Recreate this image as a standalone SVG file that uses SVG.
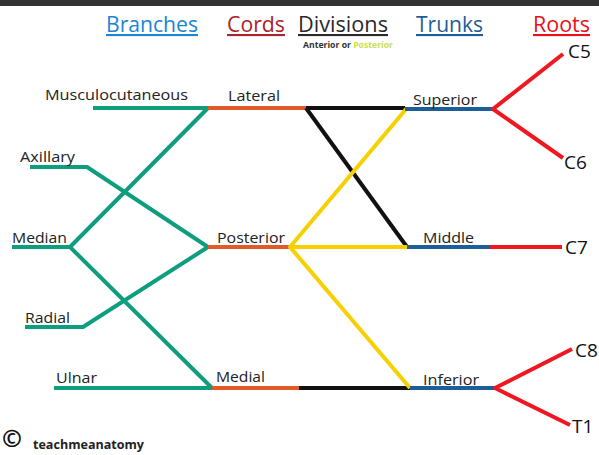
<svg xmlns="http://www.w3.org/2000/svg" width="599" height="455" viewBox="0 0 599 455">
<style>
text{font-family:"Open Sans","Noto Sans","DejaVu Sans",sans-serif;}
.h{font-size:21px;text-decoration:underline;}
.l{font-size:15px;fill:#222;}
.r{font-size:19px;fill:#111;}
.s{fill:none;stroke-width:4;stroke-linejoin:round;}
.g{stroke:#0e9e7e;}
.o{stroke:#e05a2a;}
.k{stroke:#111;}
.y{stroke:#f6d000;}
.b{stroke:#1e5d98;}
.d{stroke:#f01820;}
</style>
<rect x="0" y="0" width="599" height="455" fill="#fff"/>
<rect x="0" y="0" width="599" height="6" fill="#333"/>
<g id="headers">
<text class="h" x="106" y="32" fill="#1a86d2" textLength="92" lengthAdjust="spacingAndGlyphs">Branches</text>
<text class="h" x="227" y="32" fill="#a8242a" textLength="58" lengthAdjust="spacingAndGlyphs">Cords</text>
<text class="h" x="298" y="32" fill="#2a2a2a" textLength="90" lengthAdjust="spacingAndGlyphs">Divisions</text>
<text x="303" y="48" font-size="8" font-weight="bold" fill="#333" textLength="90" lengthAdjust="spacingAndGlyphs">Anterior or <tspan fill="#c9e04a">Posterior</tspan></text>
<text class="h" x="416" y="32" fill="#1e5d98" textLength="67" lengthAdjust="spacingAndGlyphs">Trunks</text>
<text class="h" x="533" y="32" fill="#e8101a" textLength="57" lengthAdjust="spacingAndGlyphs">Roots</text>
</g>
<g id="connectors">
<path class="s g" d="M93,108 L208,108"/>
<path class="s g" d="M208,108 L70,247"/>
<path class="s g" d="M12,247 L70,247 L212,388"/>
<path class="s g" d="M30,167 L87,167 L208,247"/>
<path class="s g" d="M25,327 L83,327 L208,247"/>
<path class="s g" d="M54,388 L212,388"/>
<path class="s o" d="M208,108 L306,108"/>
<path class="s o" d="M208,247 L290,247"/>
<path class="s o" d="M212,388 L299,388"/>
<path class="s k" d="M306,108 L405,108"/>
<path class="s k" d="M306,108 L407,247"/>
<path class="s k" d="M299,388 L410,388"/>
<path class="s y" d="M407,108 L290,247 L407,247"/>
<path class="s y" d="M290,247 L410,388"/>
<path class="s b" d="M405,109 L493,109"/>
<path class="s b" d="M407,247 L490,247"/>
<path class="s b" d="M410,388 L495,388"/>
<path class="s d" d="M563,54 L493,109 L563,158"/>
<path class="s d" d="M490,247 L562,247"/>
<path class="s d" d="M572,349 L495,388 L570,425"/>
</g>
<g id="branch-musculocutaneous"><text class="l" x="45" y="100" textLength="143" lengthAdjust="spacingAndGlyphs">Musculocutaneous</text></g>
<g id="branch-axillary"><text class="l" x="20" y="162" textLength="55" lengthAdjust="spacingAndGlyphs">Axillary</text></g>
<g id="branch-median"><text class="l" x="12" y="243" textLength="55" lengthAdjust="spacingAndGlyphs">Median</text></g>
<g id="branch-radial"><text class="l" x="25" y="323" textLength="45" lengthAdjust="spacingAndGlyphs">Radial</text></g>
<g id="branch-ulnar"><text class="l" x="56" y="383" textLength="41" lengthAdjust="spacingAndGlyphs">Ulnar</text></g>
<g id="cord-lateral"><text class="l" x="228" y="101" textLength="52" lengthAdjust="spacingAndGlyphs">Lateral</text></g>
<g id="cord-posterior"><text class="l" x="217" y="243" textLength="68" lengthAdjust="spacingAndGlyphs">Posterior</text></g>
<g id="cord-medial"><text class="l" x="216" y="382" textLength="49" lengthAdjust="spacingAndGlyphs">Medial</text></g>
<g id="trunk-superior"><text class="l" x="413" y="105" textLength="64" lengthAdjust="spacingAndGlyphs">Superior</text></g>
<g id="trunk-middle"><text class="l" x="423" y="243" textLength="51" lengthAdjust="spacingAndGlyphs">Middle</text></g>
<g id="trunk-inferior"><text class="l" x="423" y="385" textLength="56" lengthAdjust="spacingAndGlyphs">Inferior</text></g>
<g id="root-c5"><text class="r" x="568" y="58">C5</text></g>
<g id="root-c6"><text class="r" x="564" y="169">C6</text></g>
<g id="root-c7"><text class="r" x="565" y="254">C7</text></g>
<g id="root-c8"><text class="r" x="575" y="357">C8</text></g>
<g id="root-t1"><text class="r" x="572" y="433">T1</text></g>
<g id="credit">
<text x="2" y="447" font-size="24" font-weight="bold" fill="#111">©</text>
<text x="33" y="449" font-size="13" font-weight="bold" fill="#222" textLength="111" lengthAdjust="spacingAndGlyphs">teachmeanatomy</text>
</g>
</svg>
